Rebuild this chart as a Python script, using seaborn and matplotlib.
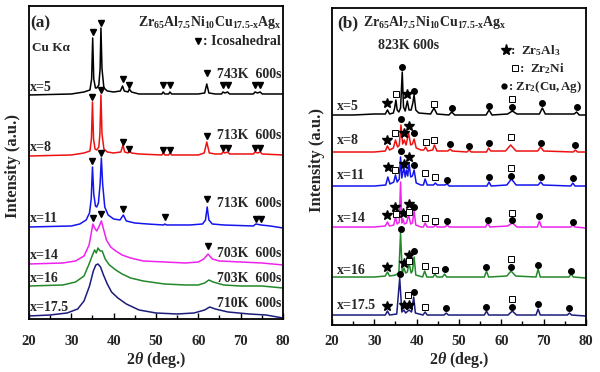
import matplotlib
matplotlib.use("Agg")
import matplotlib.pyplot as plt
from matplotlib.ticker import MultipleLocator
import pandas as pd
import seaborn as sns

# ---------------------------------------------------------------------
# (a) annealed near Tx, 600 s -- (2theta, intensity a.u.)
# ---------------------------------------------------------------------
a_x5 = [(20, 224), (30, 225), (33, 227), (34.4, 229), (34.8, 240), (35.05, 281),
        (35.3, 240), (35.7, 231), (36.0, 231), (36.5, 234), (36.8, 250), (37.0, 291),
        (37.25, 250), (37.7, 231), (38.5, 228), (40, 227), (41.6, 228), (42.1, 233),
        (42.5, 228), (43.4, 227), (43.7, 230), (44.2, 227), (46, 225), (51.4, 225),
        (51.7, 227), (52.1, 225), (53.0, 225), (53.3, 227), (53.7, 225), (60, 225),
        (61.5, 226), (62.0, 235), (62.5, 226), (64, 225), (65.5, 225), (65.8, 227),
        (66.3, 226), (66.9, 227), (67.4, 225), (73, 225), (73.4, 227), (74.0, 226),
        (74.6, 227), (75.1, 225), (80, 225)]
a_x8 = [(20, 163), (30, 164), (33, 166), (34.4, 168), (34.75, 180), (35.0, 217),
        (35.25, 180), (35.6, 170), (36.0, 169), (36.5, 172), (36.75, 185), (37.0, 224),
        (37.25, 185), (37.7, 170), (38.5, 167), (40, 166), (41.7, 167), (42.2, 174),
        (42.6, 167), (43.4, 166), (43.7, 169), (44.2, 166), (46, 165), (51.4, 164),
        (51.7, 166), (52.1, 164), (53, 164), (53.3, 166), (53.7, 164), (60, 164),
        (61.4, 166), (62.0, 177), (62.6, 166), (64, 165), (65.5, 165), (65.8, 167),
        (66.3, 166), (66.9, 167), (67.4, 165), (73, 165), (73.4, 167), (74, 166),
        (74.6, 167), (75.1, 165), (80, 164)]
a_x11 = [(20, 92), (30, 93), (32, 95), (33.5, 99), (34.3, 106), (34.7, 120), (35.0, 152),
         (35.3, 125), (35.7, 113), (36.0, 112), (36.4, 116), (36.8, 135), (37.1, 161),
         (37.4, 135), (37.9, 112), (38.7, 104), (40, 100), (41.5, 99), (42.3, 104),
         (43.0, 98), (45, 96), (48, 95), (51.8, 94), (52.1, 95), (52.5, 94), (58, 94),
         (61.0, 95), (61.7, 99), (62.1, 112), (62.5, 99), (63.3, 95), (66, 94), (73, 93),
         (73.6, 95), (74.8, 94), (77, 93), (80, 91)]
a_x14 = [(20, 55), (28, 56), (31, 58), (33, 63), (34.2, 74), (34.8, 88), (35.1, 95),
         (35.5, 91), (36.0, 88), (36.5, 92), (37.1, 98), (37.6, 90), (38.3, 79),
         (39.3, 72), (40.5, 68), (42, 64), (44, 61), (47, 58), (52, 57), (57, 56),
         (60, 57), (61.3, 60), (62.3, 65), (63.3, 60), (65, 58), (70, 57), (75, 56),
         (80, 54)]
a_x16 = [(20, 33), (28, 34), (31, 37), (33, 43), (34.2, 55), (35.0, 64), (35.5, 69),
         (35.9, 66), (36.3, 71), (36.8, 68), (37.3, 68), (38.0, 60), (39.0, 54),
         (40.5, 49), (42, 45), (44, 41), (47, 38), (52, 35), (57, 34), (60, 34),
         (61.5, 36), (62.5, 39), (63.5, 37), (66, 34), (70, 33), (75, 33), (80, 31)]
a_x175 = [(20, 3), (25, 4), (29, 6), (31.5, 10), (33, 18), (34.3, 33), (35.2, 48),
          (35.8, 54), (36.3, 55), (36.9, 52), (37.6, 44), (38.5, 35), (39.5, 27),
          (41, 21), (43, 15), (46, 9), (50, 6), (55, 5), (59, 6), (61.5, 9),
          (62.7, 12), (64, 10), (67, 7), (72, 5), (76, 4), (80, 1)]

# icosahedral phase markers (2theta, height)
a_ico = [(35.05, 287), (37.0, 296), (42.1, 240), (43.7, 234), (51.7, 234), (53.3, 234),
         (62.0, 246), (65.8, 234), (66.9, 234), (73.4, 234), (74.6, 234),
         (35.0, 222), (37.0, 229), (42.2, 177), (43.7, 170), (51.7, 169), (53.3, 169),
         (62.0, 183), (65.8, 171), (66.9, 171), (73.4, 171), (74.6, 171),
         (35.0, 158), (37.1, 166), (42.3, 110), (52.1, 102), (62.1, 120), (73.6, 100),
         (74.8, 100),
         (35.1, 101), (37.1, 105), (62.3, 73)]

a_names = ["x=5", "x=8", "x=11", "x=14", "x=16", "x=17.5"]
a_curves = [a_x5, a_x8, a_x11, a_x14, a_x16, a_x175]
a_label_y = [231, 171, 100, 63, 40, 11]
a_temps = ["743K  600s", "713K  600s", "713K  600s", "703K  600s", "703K  600s", "710K  600s"]
a_temp_y = [244, 183, 115, 65, 40, 15]

# ---------------------------------------------------------------------
# (b) annealed at 823 K, 600 s
# ---------------------------------------------------------------------
b_x5 = [(20, 210), (25, 210), (30, 211), (32.6, 211), (33.1, 215), (33.6, 211), (34.5, 212),
        (34.8, 217), (35.1, 225), (35.4, 215), (35.8, 213), (36.2, 217), (36.6, 253),
        (36.9, 218), (37.3, 214), (37.8, 224), (38.2, 215), (38.7, 215), (39.1, 222),
        (39.4, 230), (39.8, 215), (40.5, 212), (43.3, 211), (44.1, 217), (44.8, 211),
        (47.6, 210), (48.3, 213), (49, 210), (56.4, 210), (57.1, 215), (57.8, 210),
        (61.5, 211), (62.6, 214), (63.7, 211), (69.0, 211), (69.7, 217), (70.4, 211),
        (77.2, 211), (77.8, 213), (78.4, 210), (80, 210)]
b_x8 = [(20, 173), (30, 173), (32.6, 174), (33.1, 179), (33.6, 175), (34.5, 177), (35.0, 185),
        (35.5, 178), (35.9, 180), (36.3, 200), (36.7, 181), (37.1, 185), (37.5, 180),
        (38.1, 192), (38.6, 180), (39.0, 181), (39.4, 186), (39.9, 177), (41.0, 175),
        (41.7, 175), (42.1, 178), (42.6, 174), (43.8, 175), (44.2, 180), (44.8, 174),
        (47.4, 174), (47.9, 176), (48.4, 174), (51.9, 173), (52.4, 175), (52.9, 173),
        (56.5, 173), (57.0, 177), (57.5, 174), (61.0, 174), (62.2, 180), (63.5, 174),
        (68.6, 174), (69.3, 178), (70.0, 174), (77.0, 173), (77.5, 175), (78.0, 173),
        (80, 173)]
b_x11 = [(20, 139), (30, 139), (32.7, 140), (33.2, 148), (33.7, 141), (34.6, 143), (35.0, 150),
         (35.4, 143), (35.9, 146), (36.2, 168), (36.5, 147), (37.0, 158), (37.3, 148),
         (37.6, 155), (37.9, 149), (38.2, 162), (38.6, 148), (39.0, 149), (39.4, 155),
         (39.9, 142), (41, 140), (41.6, 140), (42.0, 146), (42.5, 140), (44.0, 140),
         (44.4, 142), (44.9, 140), (46.7, 140), (47.2, 141), (47.7, 139), (56.6, 139),
         (57.1, 143), (57.6, 139), (61.3, 140), (62.4, 146), (63.5, 140), (68.7, 140),
         (69.3, 143), (69.9, 140), (76.4, 139), (76.9, 142), (77.4, 139), (80, 139)]
b_x14 = [(20, 98), (30, 98), (32.6, 99), (33.1, 103), (33.6, 99), (34.6, 100), (35.0, 108),
         (35.4, 101), (35.9, 103), (36.2, 143), (36.5, 102), (36.8, 106), (37.1, 101),
         (37.6, 102), (38.1, 110), (38.6, 101), (39.0, 102), (39.4, 114), (39.8, 100),
         (41.0, 98), (41.6, 98), (42.0, 102), (42.5, 98), (44.0, 98), (44.4, 100),
         (44.9, 98), (46.7, 98), (47.2, 100), (47.7, 98), (56.3, 98), (56.8, 102),
         (57.3, 98), (61.5, 99), (62.6, 102), (63.7, 98), (68.5, 98), (69.0, 104),
         (69.5, 98), (76.4, 98), (76.9, 100), (77.4, 98), (80, 97)]
b_x16 = [(20, 48), (30, 48), (32.6, 49), (33.1, 53), (33.6, 49), (35.0, 50), (35.8, 52),
         (36.2, 92), (36.6, 52), (37.0, 57), (37.4, 52), (37.8, 53), (38.2, 62), (38.7, 52),
         (39.0, 54), (39.4, 68), (39.8, 50), (41.4, 48), (41.9, 54), (42.4, 48), (43.9, 48),
         (44.3, 51), (44.8, 48), (46.1, 48), (46.6, 51), (47.1, 48), (56.0, 48), (56.5, 54),
         (57.0, 48), (61.3, 49), (62.3, 54), (63.4, 49), (68.2, 48), (68.7, 56), (69.2, 48),
         (76.0, 48), (76.5, 51), (77.0, 48), (80, 47)]
b_x175 = [(20, 10), (30, 10), (32.6, 10), (33.1, 14), (33.6, 10), (35.3, 11), (36.0, 47),
          (36.5, 13), (37.0, 15), (37.4, 12), (38.2, 15), (38.8, 13), (39.3, 28), (39.7, 12),
          (41.5, 10), (42.0, 13), (42.5, 10), (46.5, 10), (47.0, 12), (47.5, 10), (56.0, 10),
          (56.5, 14), (57.0, 10), (61.6, 10), (62.6, 14), (63.6, 10), (68.2, 10), (68.7, 16),
          (69.2, 10), (75.6, 10), (76.1, 12), (76.6, 10), (80, 9)]

# phase markers (2theta, height)
b_stars = [(33.1, 222), (37.8, 231),
           (33.1, 185), (37.1, 192), (38.1, 199),
           (33.2, 158), (37.0, 161), (38.2, 168),
           (33.1, 110), (35.0, 118), (36.8, 112), (38.1, 121),
           (33.1, 58), (37.0, 62), (38.2, 70),
           (33.1, 19), (37.0, 20), (38.2, 20)]
b_squares = [(35.1, 231), (44.1, 221), (62.6, 226),
             (35.0, 192), (42.1, 183), (44.2, 185), (62.2, 188),
             (35.0, 155), (42.0, 152), (44.4, 148), (62.4, 157),
             (35.2, 111), (38.1, 113), (42.0, 107), (44.4, 104), (62.6, 112),
             (38.2, 64), (41.9, 59), (44.3, 55), (62.3, 66),
             (38.0, 30), (42.0, 18), (62.6, 26)]
b_dots = [(36.6, 258), (39.4, 234), (48.3, 217), (57.1, 219), (62.6, 218), (69.7, 222), (77.8, 218),
          (36.3, 206), (39.4, 192), (47.9, 181), (52.4, 179), (57.0, 182), (69.3, 182), (77.5, 180),
          (36.2, 174), (39.4, 160), (47.2, 145), (57.1, 148), (62.4, 149), (69.3, 148), (76.9, 147),
          (39.4, 118), (47.2, 104), (56.8, 105), (62.6, 105), (69.0, 109), (76.9, 103),
          (36.2, 96), (39.4, 74), (46.6, 56), (56.5, 58), (62.3, 58), (68.7, 60), (76.5, 54),
          (36.0, 51), (39.3, 33), (47.0, 17), (56.5, 18), (62.6, 18), (68.7, 21), (76.1, 17)]

b_names = ["x=5", "x=8", "x=11", "x=14", "x=16", "x=17.5"]
b_curves = [b_x5, b_x8, b_x11, b_x14, b_x16, b_x175]
b_label_y = [219, 185, 150, 107, 55, 20]

colors = ["#000000", "#ee1111", "#1414ee", "#ee22ee", "#22882a", "#1c1c7a"]


def to_frame(names, curves):
    rows = []
    for name, pts in zip(names, curves):
        for t, v in pts:
            rows.append({"sample": name, "theta": t, "I": v})
    return pd.DataFrame(rows)


sns.set_theme(style="white")
plt.rcParams["font.family"] = ["Liberation Serif", "DejaVu Serif"]
plt.rcParams["font.weight"] = "bold"
plt.rcParams["mathtext.fontset"] = "custom"
plt.rcParams["mathtext.rm"] = "Liberation Serif:bold"
plt.rcParams["mathtext.bf"] = "Liberation Serif:bold"
plt.rcParams["mathtext.it"] = "Liberation Serif:italic:bold"

formula = r"$\mathbf{Zr_{65}Al_{7.5}Ni_{10}Cu_{17.5\text{-}x}Ag_{x}}$"

fig = plt.figure(figsize=(6, 3.72), dpi=100)
ax_a = fig.add_axes([0.0483, 0.1425, 0.4233, 0.8414])
ax_b = fig.add_axes([0.5533, 0.1263, 0.4233, 0.8522])

pal = dict(zip(a_names, colors))

# --- panel (a) ---
sns.lineplot(data=to_frame(a_names, a_curves), x="theta", y="I", hue="sample",
             palette=pal, sort=False, estimator=None, legend=False, lw=1.1, ax=ax_a)
ax_a.plot([p[0] for p in a_ico], [p[1] for p in a_ico], "v", color="black",
          ms=5, ls="none")
for name, yl in zip(a_names, a_label_y):
    ax_a.text(20.3, yl, name, fontsize=10, va="center", ha="left")
for tl, yl in zip(a_temps, a_temp_y):
    ax_a.text(79.6, yl, tl, fontsize=10, va="center", ha="right")
ax_a.text(20.3, 296, "(a)", fontsize=12.5, va="center", ha="left")
ax_a.text(79.6, 296, formula, fontsize=10, va="center", ha="right")
ax_a.text(20.8, 271, "Cu K\u03b1", fontsize=9.5, va="center", ha="left")
ax_a.plot([59.9], [278], "v", color="black", ms=5)
ax_a.text(61.0, 277, ": Icosahedral", fontsize=10, va="center", ha="left")
ax_a.set_ylim(0, 313)

# --- panel (b) ---
sns.lineplot(data=to_frame(b_names, b_curves), x="theta", y="I", hue="sample",
             palette=pal, sort=False, estimator=None, legend=False, lw=1.1, ax=ax_b)
ax_b.plot([p[0] for p in b_stars], [p[1] for p in b_stars], "*", color="black",
          ms=7, ls="none")
ax_b.plot([p[0] for p in b_squares], [p[1] for p in b_squares], "s", mfc="white",
          mec="black", mew=0.7, ms=4.8, ls="none")
ax_b.plot([p[0] for p in b_dots], [p[1] for p in b_dots], "o", color="black",
          ms=4, ls="none")
for name, yl in zip(b_names, b_label_y):
    ax_b.text(21.2, yl, name, fontsize=10, va="center", ha="left")
ax_b.text(21.2, 302, "(b)", fontsize=12.5, va="center", ha="left")
ax_b.text(27.3, 302, formula, fontsize=10, va="center", ha="left")
ax_b.text(30.9, 280, "823K 600s", fontsize=10, va="center", ha="left")
ax_b.plot([61.0], [275], "*", color="black", ms=8)
ax_b.text(62.0, 274, r":  $\mathbf{Zr_5Al_3}$", fontsize=9.5, va="center", ha="left")
ax_b.plot([63.3], [257], "s", mfc="white", mec="black", mew=0.7, ms=4.8)
ax_b.text(64.2, 256, r":  $\mathbf{Zr_2Ni}$", fontsize=9.5, va="center", ha="left")
ax_b.plot([60.7], [239], "o", color="black", ms=3.5)
ax_b.text(61.5, 238, r": $\mathbf{Zr_2(Cu,Ag)}$", fontsize=9.3, va="center", ha="left")
ax_b.set_ylim(0, 317)

for ax, pad, ylx, yly in [(ax_a, 11.5, -0.031, 0.49), (ax_b, 7.2, -0.028, 0.52)]:
    ax.set_xlim(20, 80)
    ax.set_xticks(range(20, 81, 10))
    ax.xaxis.set_minor_locator(MultipleLocator(5))
    ax.set_yticks([])
    ax.tick_params(axis="x", which="both", direction="in", bottom=True, top=False,
                   color="black", width=1, labelsize=10.5, pad=pad)
    ax.tick_params(axis="x", which="major", length=4)
    ax.tick_params(axis="x", which="minor", length=3)
    for s in ax.spines.values():
        s.set_color("black")
        s.set_linewidth(1.3)
    ax.set_xlabel(r"2$\theta$ (deg.)", fontsize=11.5, fontweight="bold")
    ax.set_ylabel("Intensity (a.u.)", fontsize=12, fontweight="bold")
    ax.yaxis.set_label_coords(ylx, yly)

ax_a.xaxis.set_label_coords(0.5, -0.099)
ax_b.xaxis.set_label_coords(0.5, -0.079)

fig.savefig("out.png", dpi=100, facecolor="white")
